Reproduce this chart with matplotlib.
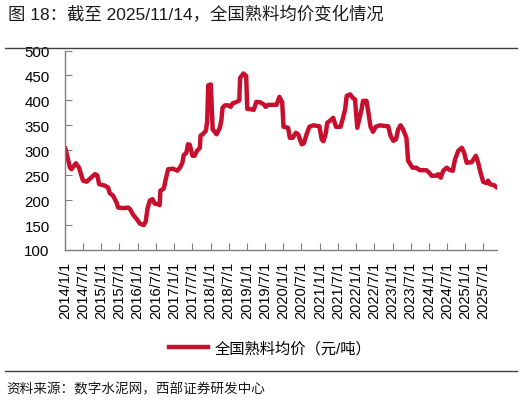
import matplotlib
matplotlib.use("Agg")
import matplotlib.pyplot as plt
import pandas as pd
from matplotlib.lines import Line2D

plt.rcParams['font.family'] = ['Liberation Sans', 'Noto Sans CJK SC', 'DejaVu Sans']

title = "图 18：截至 2025/11/14，全国熟料均价变化情况"
series_name = "全国熟料均价（元/吨）"
source = "资料来源：数字水泥网，西部证券研发中心"

dates = [
    "2014-01-03", "2014-02-20", "2014-03-07", "2014-04-20", "2014-05-22", "2014-07-01",
    "2014-08-06", "2014-09-08", "2014-10-28", "2014-11-20", "2014-12-10", "2015-02-06",
    "2015-03-10", "2015-03-26", "2015-04-28", "2015-06-03", "2015-06-18", "2015-08-08",
    "2015-09-28", "2015-10-15", "2015-11-18", "2015-12-22", "2016-01-22", "2016-03-01",
    "2016-03-21", "2016-04-07", "2016-05-01", "2016-05-28", "2016-06-19", "2016-07-22",
    "2016-08-08", "2016-08-15", "2016-09-18", "2016-10-08", "2016-11-01", "2016-12-20",
    "2017-02-01", "2017-02-27", "2017-03-24", "2017-04-06", "2017-05-03", "2017-05-19",
    "2017-06-06", "2017-07-03", "2017-07-25", "2017-08-18", "2017-09-15", "2017-09-22",
    "2017-10-18", "2017-11-15", "2017-11-28", "2017-12-08", "2018-01-04", "2018-01-12",
    "2018-01-22", "2018-03-02", "2018-04-04", "2018-04-20", "2018-05-01", "2018-05-24",
    "2018-06-27", "2018-07-21", "2018-08-10", "2018-09-20", "2018-10-16", "2018-10-24",
    "2018-11-27", "2018-12-24", "2019-01-04", "2019-02-15", "2019-03-10", "2019-04-05",
    "2019-05-15", "2019-06-18", "2019-07-08", "2019-08-01", "2019-10-25", "2019-11-22",
    "2019-12-20", "2020-01-03", "2020-02-18", "2020-03-06", "2020-04-03", "2020-05-06",
    "2020-05-29", "2020-07-03", "2020-07-25", "2020-08-21", "2020-09-18", "2020-10-28",
    "2020-12-28", "2021-01-20", "2021-02-06", "2021-03-03", "2021-03-16", "2021-04-12",
    "2021-05-15", "2021-06-12", "2021-07-28", "2021-08-18", "2021-09-12", "2021-09-28",
    "2021-11-01", "2021-11-28", "2021-12-20", "2022-01-12", "2022-02-01", "2022-02-24",
    "2022-03-11", "2022-04-14", "2022-05-01", "2022-05-25", "2022-06-19", "2022-07-16",
    "2022-08-25", "2022-11-18", "2022-12-12", "2023-01-08", "2023-02-04", "2023-02-27",
    "2023-03-22", "2023-04-16", "2023-05-20", "2023-06-06", "2023-07-20", "2023-08-28",
    "2023-10-01", "2023-12-06", "2024-01-04", "2024-01-28", "2024-03-18", "2024-04-04",
    "2024-04-28", "2024-05-24", "2024-06-27", "2024-07-31", "2024-08-27", "2024-09-19",
    "2024-10-22", "2024-11-26", "2024-12-19", "2025-01-14", "2025-03-04", "2025-04-16",
    "2025-05-09", "2025-06-02", "2025-06-28", "2025-07-31", "2025-08-17", "2025-09-03",
    "2025-10-15", "2025-11-14",
]
prices = [
    305, 265, 262, 274, 265, 239,
    237, 243, 252, 250, 232, 229,
    225, 214, 209, 195, 185, 184,
    185, 182, 170, 162, 153, 150,
    157, 182, 199, 202, 193, 192,
    190, 219, 223, 242, 262, 263,
    259, 265, 275, 290, 295, 312,
    311, 289, 289, 299, 305, 329,
    333, 339, 359, 430, 432, 389,
    342, 332, 345, 362, 385, 390,
    390, 387, 394, 397, 400, 445,
    454, 449, 383, 382, 381, 397,
    396, 392, 387, 391, 391, 407,
    397, 347, 345, 325, 325, 335,
    332, 312, 314, 332, 347, 350,
    348, 322, 318, 335, 355, 359,
    365, 347, 347, 362, 382, 409,
    412, 405, 402, 345, 362, 382,
    399, 399, 379, 347, 337, 347,
    350, 348, 329, 319, 322, 342,
    350, 342, 325, 279, 265, 265,
    260, 260, 255, 249, 249, 252,
    245, 259, 265, 260, 259, 282,
    299, 305, 295, 275, 276, 289,
    275, 255, 237, 234, 239, 232,
    230, 225,
]
tick_labels = ["2014/1/1", "2014/7/1", "2015/1/1", "2015/7/1", "2016/1/1", "2016/7/1",
               "2017/1/1", "2017/7/1", "2018/1/1", "2018/7/1", "2019/1/1", "2019/7/1",
               "2020/1/1", "2020/7/1", "2021/1/1", "2021/7/1", "2022/1/1", "2022/7/1",
               "2023/1/1", "2023/7/1", "2024/1/1", "2024/7/1", "2025/1/1", "2025/7/1"]
y_ticks = [100, 150, 200, 250, 300, 350, 400, 450, 500]

red = '#C8102E'
axis_grey = '#7f7f7f'

x = pd.to_datetime(dates)
tick_pos = pd.to_datetime(tick_labels, format="%Y/%m/%d")

fig = plt.figure(figsize=(5.26, 4.02), dpi=100)
ax = fig.add_axes([65/526, 1-251/402, (497-65)/526, (251-51.5)/402])
ax.plot(x, prices, color=red, lw=3.2, solid_joinstyle='round', solid_capstyle='round')

ax.set_xlim(pd.Timestamp("2014-01-01"), pd.Timestamp("2025-11-14"))
ax.set_ylim(100, 500)
ax.set_yticks(y_ticks)
ax.set_xticks(tick_pos)
ax.set_xticklabels(tick_labels, rotation=90, fontsize=10.5)
ax.tick_params(axis='y', labelsize=10.8, direction='in', length=5, pad=11, color=axis_grey)
ax.tick_params(axis='x', direction='in', length=5, pad=8, color=axis_grey)
for s in ['top', 'right']:
    ax.spines[s].set_visible(False)
for s in ['left', 'bottom']:
    ax.spines[s].set_color(axis_grey)
    ax.spines[s].set_linewidth(1.0)

# rules
fig.add_artist(Line2D([5/526, 517/526], [1-49/402, 1-49/402], color='#404040', lw=1.0))
fig.add_artist(Line2D([5/526, 517/526], [1-372/402, 1-372/402], color='#404040', lw=1.0))

fig.text(8/526, 1-15/402, title, fontsize=12.5, va='center', ha='left', color='#1a1a1a')
fig.text(6/526, 1-389/402, source, fontsize=9.8, va='center', ha='left', color='#1a1a1a')

handle = Line2D([], [], color=red, lw=3.2)
fig.legend([handle], [series_name], loc='center left', bbox_to_anchor=(155/526, 1-349/402),
           frameon=False, fontsize=11, handlelength=2.6, handletextpad=0.4)

fig.savefig("out.png", dpi=100)
